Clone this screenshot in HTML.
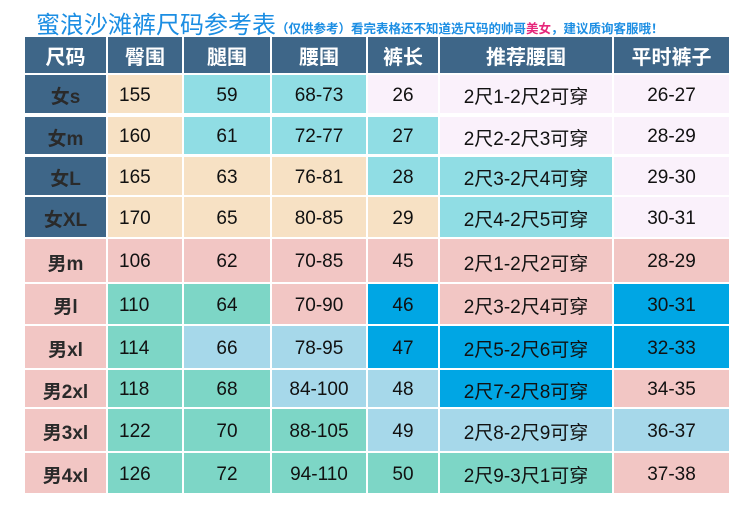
<!DOCTYPE html>
<html><head><meta charset="utf-8"><style>
body{margin:0;width:750px;height:525px;background:#fff;position:relative;overflow:hidden;font-family:"Liberation Sans","Noto Sans CJK SC",sans-serif}
.c{position:absolute;display:flex;align-items:center;justify-content:center;font-size:19px;color:#111;box-sizing:border-box;padding-top:3px}
.h{color:#fff;font-weight:bold;font-size:20px;padding-top:0}
.t{position:absolute;left:36px;top:5px;font-size:24px;color:#1c8ee3;white-space:nowrap}
.s{font-size:12.5px;font-weight:bold;color:#1c8ee3}
</style></head><body>
<div class="t">蜜浪沙滩裤尺码参考表<span class="s">（仅供参考）看完表格还不知道选尺码的帅哥<span style="color:#e6277a">美女</span>，建议质询客服哦！</span></div>
<div id="g"></div>
<script>
var X=[[25,106],[108,182],[184,270],[272,366],[368,438],[440,612],[614,729]];
var Y=[[37,73],[75,113],[117,154],[157,195],[197,237],[239,282],[284,324],[326,368],[370,407],[409,451],[453,493]];
var C={B:'#3e6688',P:'#f7e1c4',C:'#90dde4',L:'#faf1fb',K:'#f2c6c4',T:'#7dd6c6',A:'#a6d8ea',U:'#00a6e4'};
var rows=[
['B','尺码|臀围|腿围|腰围|裤长|推荐腰围|平时裤子','BBBBBBB'],
['B','女s|155|59|68-73|26|2尺1-2尺2可穿|26-27','BPCCLLL'],
['B','女m|160|61|72-77|27|2尺2-2尺3可穿|28-29','BPCCCLL'],
['B','女L|165|63|76-81|28|2尺3-2尺4可穿|29-30','BPPPCCL'],
['B','女XL|170|65|80-85|29|2尺4-2尺5可穿|30-31','BPPPPCL'],
['K','男m|106|62|70-85|45|2尺1-2尺2可穿|28-29','KKKKKKK'],
['K','男l|110|64|70-90|46|2尺3-2尺4可穿|30-31','KTTKUKU'],
['K','男xl|114|66|78-95|47|2尺5-2尺6可穿|32-33','KTAAUUU'],
['K','男2xl|118|68|84-100|48|2尺7-2尺8可穿|34-35','KTTAAUK'],
['K','男3xl|122|70|88-105|49|2尺8-2尺9可穿|36-37','KTTTAAA'],
['K','男4xl|126|72|94-110|50|2尺9-3尺1可穿|37-38','KTTTTTK']];
var h='';
rows.forEach(function(r,i){var t=r[1].split('|');for(var j=0;j<7;j++){
var cls='c'+(i==0?' h':'');var st='left:'+X[j][0]+'px;top:'+Y[i][0]+'px;width:'+(X[j][1]-X[j][0])+'px;height:'+(Y[i][1]-Y[i][0])+'px;background:'+C[r[2][j]]+';';
if(j==0&&i>0){st+='font-weight:bold;color:#2a2a2a;';}
if(j==1&&i>0){st+='justify-content:flex-start;padding-left:11px;';}
h+='<div class="'+cls+'" style="'+st+'">'+t[j]+'</div>';}});
document.getElementById('g').innerHTML=h;
</script>
</body></html>
